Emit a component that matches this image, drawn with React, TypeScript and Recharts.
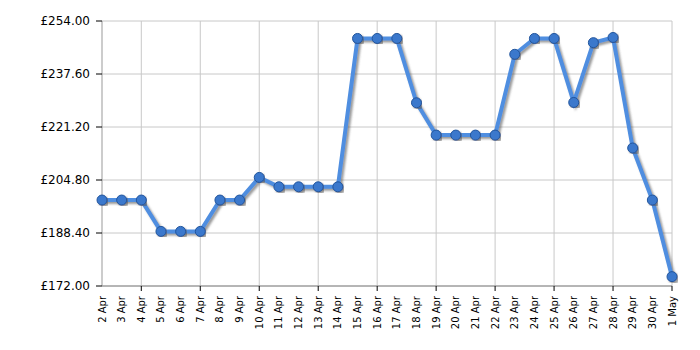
import { LineChart, Line, XAxis, YAxis, CartesianGrid } from "recharts";

const DAYS = [
  "2 Apr", "3 Apr", "4 Apr", "5 Apr", "6 Apr", "7 Apr", "8 Apr", "9 Apr", "10 Apr", "11 Apr",
  "12 Apr", "13 Apr", "14 Apr", "15 Apr", "16 Apr", "17 Apr", "18 Apr", "19 Apr", "20 Apr", "21 Apr",
  "22 Apr", "23 Apr", "24 Apr", "25 Apr", "26 Apr", "27 Apr", "28 Apr", "29 Apr", "30 Apr", "1 May",
];

const PRICES = [
  198.6, 198.6, 198.6, 188.9, 188.9, 188.9, 198.6, 198.6, 205.6, 202.7,
  202.7, 202.7, 202.7, 248.6, 248.6, 248.6, 228.7, 218.7, 218.7, 218.7,
  218.7, 243.7, 248.6, 248.6, 228.8, 247.3, 248.9, 214.7, 198.6, 174.9,
];

const Y_TICKS = [172, 188.4, 204.8, 221.2, 237.6, 254];

const data = DAYS.map((d, i) => ({ day: d, price: PRICES[i] }));

const FONT = "Verdana, 'DejaVu Sans', sans-serif";

function DayTick(props: any) {
  const { x, y, payload, index } = props;
  const marked = index % 3 === 2;
  return (
    <g>
      {marked && <line x1={x} x2={x} y1={y} y2={y + 5} stroke="#000" />}
      <text
        x={x}
        y={y + 10}
        transform={`rotate(-90, ${x}, ${y + 10})`}
        textAnchor="end"
        dominantBaseline="central"
        fontSize={10}
        fontFamily={FONT}
        fill="#000"
      >
        {payload.value}
      </text>
    </g>
  );
}

export default function App() {
  return (
    <LineChart
      width={700}
      height={342}
      data={data}
      margin={{ top: 13, right: 36, left: 0, bottom: 0 }}
      style={{ background: "#fff" }}
    >
      <defs>
        <filter id="lineShadow" x="-5%" y="-5%" width="110%" height="110%">
          <feDropShadow dx="2" dy="2" stdDeviation="1" floodColor="#555" floodOpacity="0.6" />
        </filter>
      </defs>
      <CartesianGrid
        stroke="#c8c8c8"
        verticalCoordinatesGenerator={({ offset }: any) =>
          DAYS.map((_, i) => i)
            .filter((i) => i % 3 === 2)
            .map((i) => offset.left + (i * offset.width) / (DAYS.length - 1))
        }
      />
      <XAxis
        dataKey="day"
        interval={0}
        height={64}
        tickSize={0}
        tickMargin={0}
        tick={<DayTick />}
        axisLine={{ stroke: "#888" }}
      />
      <YAxis
        width={94}
        domain={[172, 254]}
        ticks={Y_TICKS}
        interval={0}
        tickFormatter={(v: number) => `£${v.toFixed(2)}`}
        tick={{ fontSize: 12, fontFamily: FONT, fill: "#000" }}
        tickLine={{ stroke: "#000" }}
        tickSize={6}
        tickMargin={6}
        axisLine={{ stroke: "#999" }}
      />
      <Line
        type="linear"
        dataKey="price"
        stroke="#4f8ee0"
        strokeWidth={4}
        style={{ filter: "url(#lineShadow)" }}
        dot={{ r: 5, fill: "#3a78cc", stroke: "#22559c", strokeWidth: 1 }}
        isAnimationActive={false}
      />
    </LineChart>
  );
}
